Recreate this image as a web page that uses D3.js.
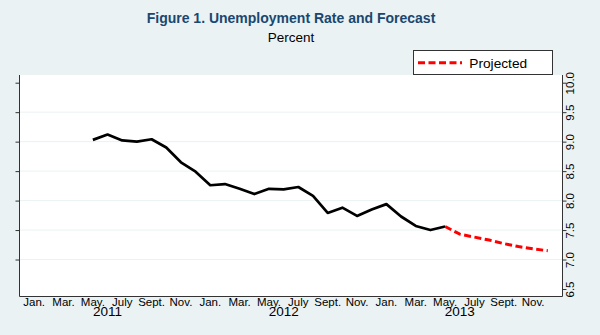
<!DOCTYPE html>
<html>
<head>
<meta charset="utf-8">
<script src="https://cdn.jsdelivr.net/npm/d3@7"></script>
<style>
  body { margin: 0; background: #eaf2f3; }
  svg { display: block; }
</style>
</head>
<body>
<script>
// monthly unemployment rate, May 2011 - May 2013
const actualStart = "2011-05";
const actual = [9.03, 9.12, 9.02, 9.00, 9.04, 8.90, 8.65, 8.49,
                8.26, 8.28, 8.20, 8.11, 8.20, 8.19, 8.23, 8.08, 7.79, 7.88, 7.74, 7.85,
                7.94, 7.73, 7.57, 7.50, 7.56];

// projection, May 2013 - Dec. 2013
const projectedStart = "2013-05";
const projected = [7.56, 7.43, 7.38, 7.33, 7.27, 7.22, 7.18, 7.15];

const monthLabels = ["Jan.", "Mar.", "May.", "July", "Sept.", "Nov."];
const years = [2011, 2012, 2013];
const yTicks = [6.5, 7.0, 7.5, 8.0, 8.5, 9.0, 9.5, 10.0];
const leftTicks = [7.0, 7.5, 8.0, 8.5, 9.0, 9.5, 10.0];
const gridTicks = [7.0, 7.5, 8.0, 8.5, 9.0, 9.5];

const width = 600, height = 335;
const font = "'Liberation Sans', Arial, Helvetica, sans-serif";

const monthIndex = s => {
  const [yr, m] = s.split("-").map(Number);
  return (yr - 2011) * 12 + (m - 1);
};
const series = (start, values) => values.map((v, i) => ({m: monthIndex(start) + i, v}));

const x = d3.scaleLinear().domain([-1, 36]).range([19.5, 562.5]);
const y = d3.scaleLinear().domain([6.5, 10]).range([289, 82.7]);
const plotTop = 75, plotBottom = 296.5;

const svg = d3.select("body").append("svg")
    .attr("width", width)
    .attr("height", height)
    .attr("font-family", font);

svg.append("rect")
    .attr("width", width)
    .attr("height", height)
    .attr("fill", "#eaf2f3");

svg.append("rect")
    .attr("x", x.range()[0])
    .attr("y", plotTop)
    .attr("width", x.range()[1] - x.range()[0])
    .attr("height", plotBottom - plotTop)
    .attr("fill", "#fff");

svg.append("g")
    .attr("stroke", "#eaf2f3")
    .attr("stroke-width", 1)
  .selectAll("line")
  .data(gridTicks)
  .join("line")
    .attr("x1", x.range()[0])
    .attr("x2", x.range()[1])
    .attr("y1", d => y(d))
    .attr("y2", d => y(d));

// left axis: ticks only
svg.append("g")
    .attr("transform", `translate(${x.range()[0]},0)`)
    .call(d3.axisLeft(y).tickValues(leftTicks).tickSize(4).tickFormat(""))
    .call(g => g.select(".domain").remove())
    .call(g => g.selectAll("line").attr("stroke", "#333"));

svg.append("line")
    .attr("x1", x.range()[0]).attr("x2", x.range()[0])
    .attr("y1", plotTop).attr("y2", plotBottom)
    .attr("stroke", "#333");

// right axis with vertical labels
svg.append("g")
    .attr("transform", `translate(${x.range()[1]},0)`)
    .call(d3.axisRight(y).tickValues(yTicks).tickSize(4).tickFormat(d3.format(".1f")))
    .call(g => g.select(".domain").remove())
    .call(g => g.selectAll("line").attr("stroke", "#333"))
    .call(g => g.selectAll("text")
        .attr("transform", "rotate(-90)")
        .attr("x", 0)
        .attr("y", 11.5)
        .attr("dy", null)
        .attr("text-anchor", "middle")
        .attr("font-family", font)
        .attr("font-size", 11.5)
        .attr("fill", "#000"));

svg.append("line")
    .attr("x1", x.range()[1]).attr("x2", x.range()[1])
    .attr("y1", plotTop).attr("y2", plotBottom)
    .attr("stroke", "#333");

// bottom axis
svg.append("line")
    .attr("x1", x.range()[0]).attr("x2", x.range()[1])
    .attr("y1", plotBottom).attr("y2", plotBottom)
    .attr("stroke", "#333");

const monthTicks = years.flatMap(yr => monthLabels.map((label, i) => ({m: (yr - 2011) * 12 + i * 2, label})));

svg.append("g")
    .attr("font-size", 11.5)
    .attr("text-anchor", "middle")
  .selectAll("text")
  .data(monthTicks)
  .join("text")
    .attr("x", d => x(d.m))
    .attr("y", 305.7)
    .text(d => d.label);

svg.append("g")
    .attr("font-size", 13.5)
    .attr("text-anchor", "middle")
  .selectAll("text")
  .data(years)
  .join("text")
    .attr("x", d => x((d - 2011) * 12 + 5))
    .attr("y", 315.5)
    .text(d => d);

const line = d3.line()
    .x(d => x(d.m))
    .y(d => y(d.v));

svg.append("path")
    .datum(series(actualStart, actual))
    .attr("fill", "none")
    .attr("stroke", "#000")
    .attr("stroke-width", 2.7)
    .attr("stroke-linejoin", "round")
    .attr("d", line);

svg.append("path")
    .datum(series(projectedStart, projected))
    .attr("fill", "none")
    .attr("stroke", "#f00")
    .attr("stroke-width", 3)
    .attr("stroke-dasharray", "7,3.5")
    .attr("d", line);

// titles
svg.append("text")
    .attr("x", (x.range()[0] + x.range()[1]) / 2)
    .attr("y", 23.3)
    .attr("text-anchor", "middle")
    .attr("font-size", 14)
    .attr("font-weight", "bold")
    .attr("fill", "#1a476f")
    .text("Figure 1. Unemployment Rate and Forecast");

svg.append("text")
    .attr("x", (x.range()[0] + x.range()[1]) / 2)
    .attr("y", 41.7)
    .attr("text-anchor", "middle")
    .attr("font-size", 13.5)
    .attr("fill", "#000")
    .text("Percent");

// legend
const legend = svg.append("g");
legend.append("rect")
    .attr("x", 413.5)
    .attr("y", 50.5)
    .attr("width", 139)
    .attr("height", 24)
    .attr("fill", "#fff")
    .attr("stroke", "#333");
legend.append("line")
    .attr("x1", 418).attr("x2", 462)
    .attr("y1", 62.7).attr("y2", 62.7)
    .attr("stroke", "#f00")
    .attr("stroke-width", 3)
    .attr("stroke-dasharray", "7,3.5");
legend.append("text")
    .attr("x", 469.3)
    .attr("y", 67.5)
    .attr("font-size", 13.7)
    .text("Projected");
</script>
</body>
</html>
